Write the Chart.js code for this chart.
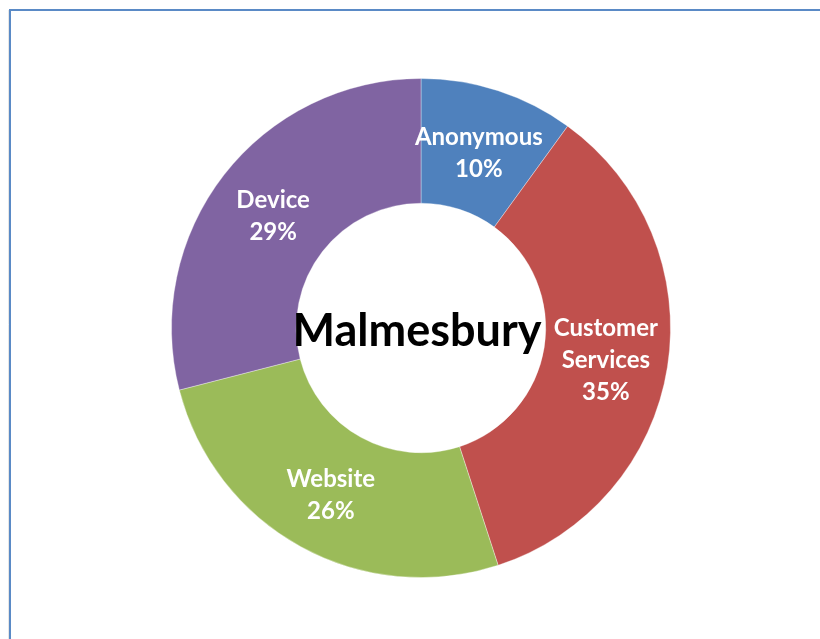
<!DOCTYPE html>
<html>
<head>
<meta charset="utf-8">
<script src="https://cdn.jsdelivr.net/npm/chart.js@4.4.0/dist/chart.umd.min.js"></script>
<style>
  html, body { margin: 0; padding: 0; background: #ffffff; overflow: hidden; }
  #wrap { position: absolute; left: 0; top: 0; width: 820px; height: 639px; }
</style>
</head>
<body>
<div id="wrap"><canvas id="c" width="820" height="639"></canvas></div>
<script>
const title = "Malmesbury";
const categories = ["Anonymous", "Customer Services", "Website", "Device"];
const labelLines = [["Anonymous"], ["Customer", "Services"], ["Website"], ["Device"]];
const values = [10, 35, 26, 29];
const colors = ["#4F81BD", "#C0504D", "#9BBB59", "#8064A2"];

const framePlugin = {
  id: 'frame',
  beforeDraw(chart) {
    const ctx = chart.ctx;
    ctx.save();
    ctx.fillStyle = '#ffffff';
    ctx.fillRect(0, 0, chart.width, chart.height);
    ctx.strokeStyle = '#e6e6e6';
    ctx.lineWidth = 1;
    ctx.beginPath();
    ctx.moveTo(8.5, 10); ctx.lineTo(8.5, chart.height);
    ctx.stroke();
    ctx.strokeStyle = '#5A8AC6';
    ctx.lineWidth = 2;
    ctx.beginPath();
    ctx.moveTo(10, chart.height + 5);
    ctx.lineTo(10, 10);
    ctx.lineTo(chart.width + 5, 10);
    ctx.stroke();
    ctx.restore();
  }
};

const labelPlugin = {
  id: 'sliceLabels',
  afterDatasetsDraw(chart) {
    const ctx = chart.ctx;
    const meta = chart.getDatasetMeta(0);
    const total = values.reduce((a, b) => a + b, 0);
    ctx.save();
    ctx.textAlign = 'center';
    ctx.textBaseline = 'middle';
    ctx.fillStyle = '#ffffff';
    ctx.font = 'bold 24px Lato';
    meta.data.forEach((arc, i) => {
      const p = arc.tooltipPosition();
      const lines = labelLines[i].concat([Math.round(values[i] / total * 100) + '%']);
      const lh = 32;
      const y0 = p.y + 3 - (lines.length - 1) * lh / 2;
      lines.forEach((t, j) => ctx.fillText(t, p.x, y0 + j * lh));
    });
    // center title
    const a0 = meta.data[0];
    ctx.fillStyle = '#000000';
    ctx.font = 'bold 45px Lato';
    ctx.fillText(title, a0.x - 4, a0.y + 3);
    ctx.restore();
  }
};

new Chart(document.getElementById('c'), {
  type: 'doughnut',
  data: {
    labels: categories,
    datasets: [{
      data: values,
      backgroundColor: colors,
      borderColor: 'rgba(255,255,255,0.35)',
      borderWidth: 1
    }]
  },
  options: {
    responsive: false,
    animation: false,
    cutout: '50%',
    layout: { padding: { top: 78, bottom: 61, left: 100, right: 78 } },
    plugins: { legend: { display: false }, tooltip: { enabled: false } },
    events: []
  },
  plugins: [framePlugin, labelPlugin]
});
</script>
</body>
</html>
